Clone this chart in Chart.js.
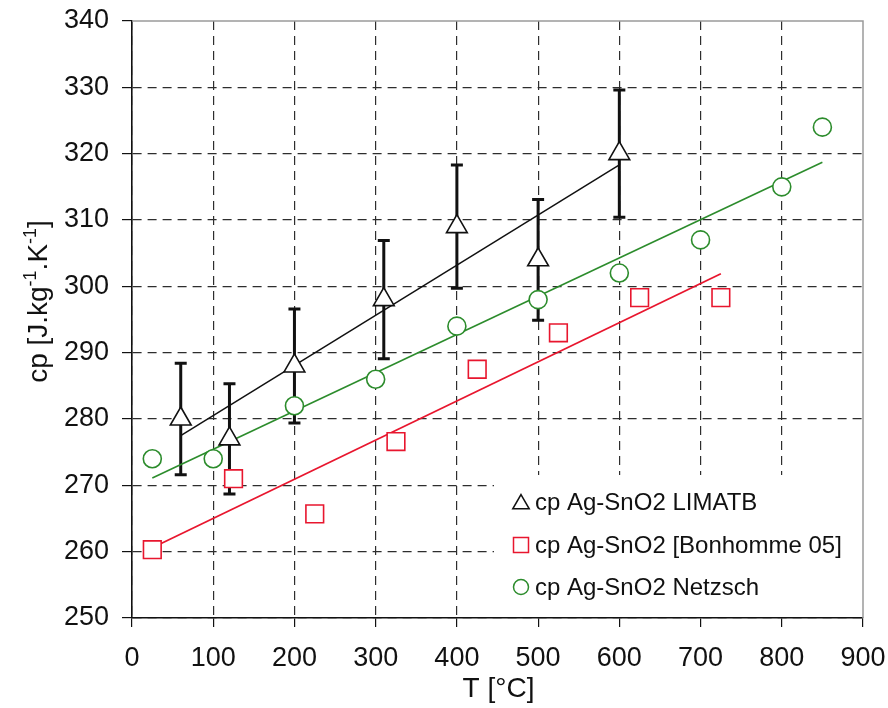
<!DOCTYPE html>
<html>
<head>
<meta charset="utf-8">
<script src="https://cdn.jsdelivr.net/npm/chart.js@4"></script>
<style>
  html, body { margin: 0; padding: 0; background: #fff; }
  #wrap { width: 888px; height: 708px; position: relative; }
</style>
</head>
<body>
<div id="wrap"><canvas id="cpChart" width="888" height="708"></canvas></div>
<script>
// x values (temperature, degC) and cp values
const limatbT = [60, 120, 200, 310, 400, 500, 600];
const limatbCp = [280, 277, 288, 298, 309, 304, 320];
const limatbErr = [8.4, 8.3, 8.6, 8.9, 9.3, 9.1, 9.6];

const bonhommeT = [25, 125, 225, 325, 425, 525, 625, 725];
const bonhommeCp = [260.3, 271, 265.7, 276.6, 287.5, 293, 298.3, 298.3];

const netzschT = [25, 100, 200, 300, 400, 500, 600, 700, 800, 850];
const netzschCp = [274, 274, 282, 286, 294, 298, 302, 307, 315, 324];

// linear fits (end points)
const limatbFitT = [60, 600];
const limatbFitCp = [277.5, 318.3];
const bonhommeFitT = [25, 725];
const bonhommeFitCp = [260.6, 301.9];
const netzschFitT = [25, 850];
const netzschFitCp = [271.1, 318.7];

const xTicks = [0, 100, 200, 300, 400, 500, 600, 700, 800, 900];
const yTicks = [250, 260, 270, 280, 290, 300, 310, 320, 330, 340];

const seriesLabels = ['cp Ag-SnO2 LIMATB', 'cp Ag-SnO2 [Bonhomme 05]', 'cp Ag-SnO2 Netzsch'];

const Colors = {
    black: '#111111',
    red: '#e8162e',
    green: '#2c8c2c',
    grid: '#2e2e2e',
    frame: '#9a9a9a'
};
const FONT = '"Liberation Sans", Arial, Helvetica, sans-serif';

function toPoints(xs, ys) {
    return xs.map((x, i) => ({ x: x, y: ys[i] }));
}

// error bars for the LIMATB series, drawn under the markers
const errorBars = {
    id: 'errorBars',
    beforeDatasetsDraw(chart) {
        const ctx = chart.ctx;
        const xs = chart.scales.x, ys = chart.scales.y;
        ctx.save();
        ctx.strokeStyle = Colors.black;
        ctx.lineWidth = 3;
        limatbT.forEach((t, i) => {
            const px = xs.getPixelForValue(t);
            const top = ys.getPixelForValue(limatbCp[i] + limatbErr[i]);
            const bot = ys.getPixelForValue(limatbCp[i] - limatbErr[i]);
            ctx.beginPath();
            ctx.moveTo(px, top); ctx.lineTo(px, bot);
            ctx.moveTo(px - 6, top); ctx.lineTo(px + 6, top);
            ctx.moveTo(px - 6, bot); ctx.lineTo(px + 6, bot);
            ctx.stroke();
        });
        ctx.restore();
    }
};

function drawMarker(ctx, style, x, y, r) {
    ctx.beginPath();
    if (style === 'triangle') {
        for (let k = 0; k < 3; k++) {
            const a = k * 2 * Math.PI / 3;
            const px = x + Math.sin(a) * r, py = y - Math.cos(a) * r;
            if (k === 0) ctx.moveTo(px, py); else ctx.lineTo(px, py);
        }
        ctx.closePath();
    } else if (style === 'rect') {
        ctx.rect(x - r, y - r, 2 * r, 2 * r);
    } else {
        ctx.arc(x, y, r, 0, Math.PI * 2);
    }
    ctx.stroke();
}

// legend box, plot frame and axis titles
const decorations = {
    id: 'decorations',
    afterDraw(chart) {
        const ctx = chart.ctx;
        const a = chart.chartArea;
        ctx.save();

        // legend box (white, covers the grid)
        const boxL = a.left + 362, boxT = a.top + 454;
        ctx.fillStyle = '#fff';
        ctx.fillRect(boxL, boxT, a.right - boxL - 1, a.bottom - boxT - 1);

        const items = [
            { style: 'triangle', color: Colors.black, r: 9.5, dy: 27 },
            { style: 'rect', color: Colors.red, r: 7.5, dy: 70 },
            { style: 'circle', color: Colors.green, r: 7.5, dy: 112 }
        ];
        ctx.font = '24px ' + FONT;
        ctx.textBaseline = 'middle';
        ctx.textAlign = 'left';
        items.forEach((it, i) => {
            const y = boxT + it.dy;
            ctx.strokeStyle = it.color;
            ctx.lineWidth = 1.5;
            drawMarker(ctx, it.style, boxL + 27, y + (it.style === 'triangle' ? 2 : 0), it.r);
            ctx.fillStyle = '#111';
            ctx.fillText(seriesLabels[i], boxL + 41, y + 1);
        });

        // top and right frame lines
        ctx.strokeStyle = Colors.frame;
        ctx.lineWidth = 1.5;
        ctx.beginPath();
        ctx.moveTo(a.left, a.top); ctx.lineTo(a.right, a.top); ctx.lineTo(a.right, a.bottom);
        ctx.stroke();

        // x title
        ctx.fillStyle = '#111';
        ctx.font = '28px ' + FONT;
        ctx.textAlign = 'center';
        ctx.textBaseline = 'middle';
        ctx.fillText('T [\u00b0C]', (a.left + a.right) / 2 + 1, 689);

        // y title with superscripts
        ctx.translate(37, (a.top + a.bottom) / 2 - 18);
        ctx.rotate(-Math.PI / 2);
        const parts = [['cp [J.kg', false], ['-1', true], ['.K', false], ['-1', true], [']', false]];
        const big = '28px ' + FONT, small = '18px ' + FONT;
        let w = 0;
        parts.forEach(p => { ctx.font = p[1] ? small : big; w += ctx.measureText(p[0]).width; });
        let cx = -w / 2;
        ctx.textAlign = 'left';
        ctx.textBaseline = 'alphabetic';
        parts.forEach(p => {
            ctx.font = p[1] ? small : big;
            ctx.fillText(p[0], cx, p[1] ? -1 : 10);
            cx += ctx.measureText(p[0]).width;
        });
        ctx.restore();
    }
};

const ctx = document.getElementById('cpChart').getContext('2d');
const cpChart = new Chart(ctx, {
    type: 'scatter',
    data: {
        datasets: [{
            label: seriesLabels[0],
            data: toPoints(limatbT, limatbCp),
            pointStyle: 'triangle',
            pointRadius: 12,
            pointBorderWidth: 1.6,
            borderColor: Colors.black,
            backgroundColor: '#fff'
        }, {
            label: seriesLabels[1],
            data: toPoints(bonhommeT, bonhommeCp),
            pointStyle: 'rect',
            pointRadius: 12.5,
            pointBorderWidth: 1.6,
            borderColor: Colors.red,
            backgroundColor: '#fff'
        }, {
            label: seriesLabels[2],
            data: toPoints(netzschT, netzschCp),
            pointStyle: 'circle',
            pointRadius: 9,
            pointBorderWidth: 1.6,
            borderColor: Colors.green,
            backgroundColor: '#fff'
        }, {
            type: 'line',
            label: 'fit LIMATB',
            data: toPoints(limatbFitT, limatbFitCp),
            borderColor: Colors.black,
            borderWidth: 1.5,
            pointRadius: 0
        }, {
            type: 'line',
            label: 'fit Bonhomme',
            data: toPoints(bonhommeFitT, bonhommeFitCp),
            borderColor: Colors.red,
            borderWidth: 1.8,
            pointRadius: 0
        }, {
            type: 'line',
            label: 'fit Netzsch',
            data: toPoints(netzschFitT, netzschFitCp),
            borderColor: Colors.green,
            borderWidth: 1.6,
            pointRadius: 0
        }]
    },
    options: {
        responsive: false,
        animation: false,
        layout: { padding: { top: 21, right: 25, left: 0, bottom: 0 } },
        plugins: {
            legend: { display: false },
            tooltip: { enabled: false }
        },
        scales: {
            x: {
                type: 'linear',
                min: 0,
                max: 900,
                afterBuildTicks: (s) => { s.ticks = xTicks.map(v => ({ value: v })); },
                afterFit: (s) => { s.height = 90; s.paddingLeft = 0; s.paddingRight = 0; },
                ticks: {
                    color: '#111',
                    font: { family: FONT, size: 27 },
                    padding: 15
                },
                grid: {
                    color: (c) => (c.tick && c.tick.value === 900) ? 'rgba(0,0,0,0)' : Colors.grid,
                    tickColor: '#111',
                    tickLength: 9,
                    lineWidth: 1.2
                },
                border: { display: true, color: '#111', width: 1.6, dash: [9, 6] }
            },
            y: {
                type: 'linear',
                min: 250,
                max: 340,
                afterBuildTicks: (s) => { s.ticks = yTicks.map(v => ({ value: v })); },
                afterFit: (s) => { s.width = 132; s.paddingTop = 0; s.paddingBottom = 0; },
                ticks: {
                    color: '#111',
                    font: { family: FONT, size: 27 },
                    padding: 13
                },
                grid: {
                    color: (c) => (c.tick && c.tick.value === 340) ? 'rgba(0,0,0,0)' : Colors.grid,
                    tickColor: '#111',
                    tickLength: 10,
                    lineWidth: 1.2
                },
                border: { display: true, color: '#111', width: 1.6, dash: [9, 6] }
            }
        }
    },
    plugins: [errorBars, decorations]
});
</script>
</body>
</html>
